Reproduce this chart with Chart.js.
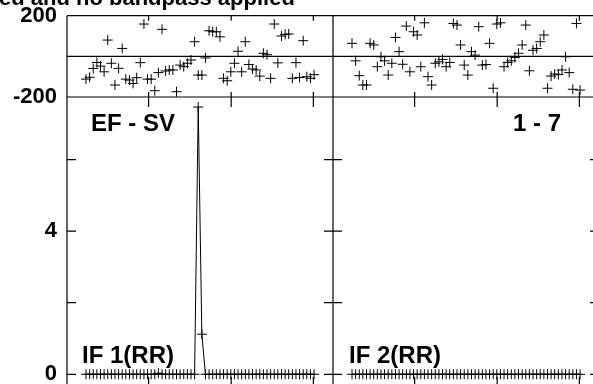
<!DOCTYPE html>
<html>
<head>
<meta charset="utf-8">
<script src="https://cdn.jsdelivr.net/npm/chart.js@4/dist/chart.umd.min.js"></script>
<style>
  html, body { margin: 0; padding: 0; background: #fff; overflow: hidden; }
  #wrap { position: relative; width: 593px; height: 384px; overflow: hidden; }
  canvas { position: absolute; left: 0; top: 0; }
</style>
</head>
<body>
<div id="wrap"><canvas id="possm" width="610" height="400"></canvas></div>
<script>
// channel numbers, one cross per channel in each panel
const channels = [
    1, 2, 3, 4, 5, 6, 7, 8, 9, 10, 11, 12, 13, 14, 15, 16,
    17, 18, 19, 20, 21, 22, 23, 24, 25, 26, 27, 28, 29, 30, 31, 32,
    33, 34, 35, 36, 37, 38, 39, 40, 41, 42, 43, 44, 45, 46, 47, 48,
    49, 50, 51, 52, 53, 54, 55, 56, 57, 58, 59, 60, 61, 62, 63, 64,
];

// baseline EF - SV, IF 1 (RR)
const phaseEfSv = [
    -112, -103, -60, -30, -48, -76, 80, -34, -141, -59, 39, -112, -117, -133, -105, -31,
    159, -112, -112, -169, -80, 133, -72, -67, -67, -174, -43, -51, -34, -18, 72, -92,
    -92, -8, 126, 121, 121, 96, -108, -120, -76, -34, 25, -76, 72, -40, -62, -67,
    -97, 15, 8, -108, 159, -32, 100, 108, 110, -108, -31, -104, 77, -100, -108, -90,
];
const ampEfSv = [
    0, 0, 0, 0, 0, 0, 0, 0, 0, 0, 0, 0, 0, 0, 0, 0,
    0, 0, 0, 0, 0.03, 0, 0, 0, 0, 0, 0, 0, 0, 0, 0, 7.47,
    1.12, 0, 0, 0, 0, 0, 0, 0, 0, 0, 0, 0, 0, 0, 0, 0,
    0, 0, 0, 0, 0, 0, 0, 0, 0, 0, 0, 0, 0, 0, 0, 0,
];

// baseline 1 - 7, IF 2 (RR)
const phase17 = [
    64, -22, -95, -141, -141, 64, 56, -51, -2, -22, -92, -34, 93, 23, -39, 149,
    -76, 121, 105, -51, 165, -100, -141, -34, -27, -15, -51, -30, 162, 154, 56, -43,
    -92, 23, 6, 146, -43, -40, 64, -157, 159, 165, -51, -30, -22, -5, 15, 56,
    154, -71, 30, 39, 72, 105, -157, -97, -87, -90, -67, -2, -80, -162, 162, -166,
];
const amp17 = [
    0, 0, 0, 0, 0, 0, 0, 0, 0, 0, 0, 0, 0, 0, 0, 0,
    0, 0, 0, 0, 0, 0, 0, 0, 0, 0, 0, 0, 0, 0, 0, 0,
    0, 0, 0, 0, 0, 0, 0, 0, 0, 0, 0, 0, 0, 0, 0, 0,
    0, 0, 0, 0, 0, 0, 0, 0, 0, 0, 0, 0, 0, 0, 0, 0,
];

const phaseTicks = [-200, 0, 200];
const phaseTickLabels = ['-200', '', '200'];
const ampTicks = [0, 2, 4, 6];
const ampTickLabels = ['0', '', '4', ''];
const xTicks = [18.3, 41.1, 63.8];

const FONT = "'Liberation Sans', Arial, Helvetica, sans-serif";
const BLACK = '#000';

const points = (ys) => channels.map((c, i) => ({ x: c, y: ys[i] }));

const crossSet = (data, xAxisID, yAxisID, showLine) => ({
    data: data,
    xAxisID: xAxisID,
    yAxisID: yAxisID,
    showLine: showLine,
    borderColor: BLACK,
    backgroundColor: BLACK,
    borderWidth: 1,
    pointStyle: 'cross',
    pointRadius: 5,
    pointBorderWidth: 1,
    pointBorderColor: BLACK,
    tension: 0,
});

// frame, tick marks and the text labels of the POSSM plot
const possmFrame = {
    id: 'possmFrame',
    beforeDatasetsDraw(chart) {
        const { ctx } = chart;
        const { xL, xR, yP, yA } = chart.scales;
        const left = xL.left, mid = xL.right, right = xR.right;
        const top = yP.getPixelForValue(200);
        const zero = yP.getPixelForValue(0);
        const pBot = yP.getPixelForValue(-200);
        const bottom = yA.bottom;

        ctx.save();
        ctx.strokeStyle = BLACK;
        ctx.lineWidth = 1.2;
        ctx.beginPath();
        [top, zero, pBot, bottom].forEach((y) => {
            ctx.moveTo(left, y);
            ctx.lineTo(right, y);
        });
        [left, mid, right].forEach((x) => {
            ctx.moveTo(x, top);
            ctx.lineTo(x, bottom);
        });
        [xL, xR].forEach((s) => {
            xTicks.forEach((v) => {
                const x = s.getPixelForValue(v);
                ctx.moveTo(x, top);
                ctx.lineTo(x, top + 5);
                ctx.moveTo(x, pBot - 5);
                ctx.lineTo(x, pBot + 10);
                ctx.moveTo(x, bottom - 10);
                ctx.lineTo(x, bottom);
            });
        });
        ampTicks.forEach((v) => {
            const y = yA.getPixelForValue(v);
            ctx.moveTo(left, y);
            ctx.lineTo(left + 9, y);
            ctx.moveTo(mid - 9, y);
            ctx.lineTo(mid + 9, y);
            ctx.moveTo(right - 9, y);
            ctx.lineTo(right, y);
        });
        ctx.stroke();
        ctx.restore();
    },
    afterDraw(chart) {
        const { ctx } = chart;
        const { xL, xR, yP, yA } = chart.scales;
        const zeroAmp = yA.getPixelForValue(0);

        ctx.save();
        ctx.fillStyle = BLACK;
        ctx.textBaseline = 'alphabetic';

        ctx.font = `bold 22px ${FONT}`;
        ctx.textAlign = 'left';
        ctx.fillText('ed and no bandpass applied', -1, yP.top - 11);

        ctx.font = `bold 24px ${FONT}`;
        ctx.fillText('EF - SV', xL.left + 24, yA.top + 33.7);
        ctx.fillText('IF 1(RR)', xL.left + 15, zeroAmp - 11.3);
        ctx.fillText('IF 2(RR)', xR.left + 16, zeroAmp - 11.3);
        ctx.textAlign = 'right';
        ctx.fillText('1 - 7', xR.right - 38, yA.top + 33.7);
        ctx.restore();
    },
};

const xScale = (weight) => ({
    type: 'linear',
    position: 'bottom',
    stack: 'panels',
    weight: weight,
    min: -4.25,
    max: 69.23,
    ticks: { display: false },
    grid: { display: false, drawTicks: false },
    border: { display: false },
    afterFit: (s) => {
        s.height = 0;
        s.paddingLeft = 0;
        s.paddingRight = 0;
    },
});

const yScale = (weight, stackWeight, min, max, ticks, labels) => ({
    type: 'linear',
    position: 'left',
    stack: 'rows',
    weight: weight,
    stackWeight: stackWeight,
    min: min,
    max: max,
    afterBuildTicks: (s) => { s.ticks = ticks.map((v) => ({ value: v })); },
    afterFit: (s) => {
        // labels may hang over the frame, as in the original plot
        s.width = 67;
        s.paddingTop = 0;
        s.paddingBottom = 0;
    },
    ticks: {
        autoSkip: false,
        padding: 10,
        color: BLACK,
        font: { family: FONT, size: 22, weight: 'bold' },
        callback: (value, index) => labels[index],
    },
    grid: { display: false, drawTicks: false },
    border: { display: false },
});

const ctx = document.getElementById('possm').getContext('2d');
new Chart(ctx, {
    type: 'line',
    data: {
        datasets: [
            crossSet(points(phaseEfSv), 'xL', 'yP', false),
            crossSet(points(ampEfSv), 'xL', 'yA', true),
            crossSet(points(phase17), 'xR', 'yP', false),
            crossSet(points(amp17), 'xR', 'yA', true),
        ],
    },
    options: {
        responsive: false,
        animation: false,
        devicePixelRatio: 1,
        layout: { padding: { left: 0, top: 15.7, right: 11, bottom: 13.2 } },
        plugins: {
            legend: { display: false },
            tooltip: { enabled: false },
            title: { display: false },
        },
        scales: {
            xL: xScale(1),
            xR: xScale(2),
            yA: yScale(1, 289.8, -0.35, 7.75, ampTicks, ampTickLabels),
            yP: yScale(2, 81.3, -200, 200, phaseTicks, phaseTickLabels),
        },
    },
    plugins: [possmFrame],
});
</script>
</body>
</html>
